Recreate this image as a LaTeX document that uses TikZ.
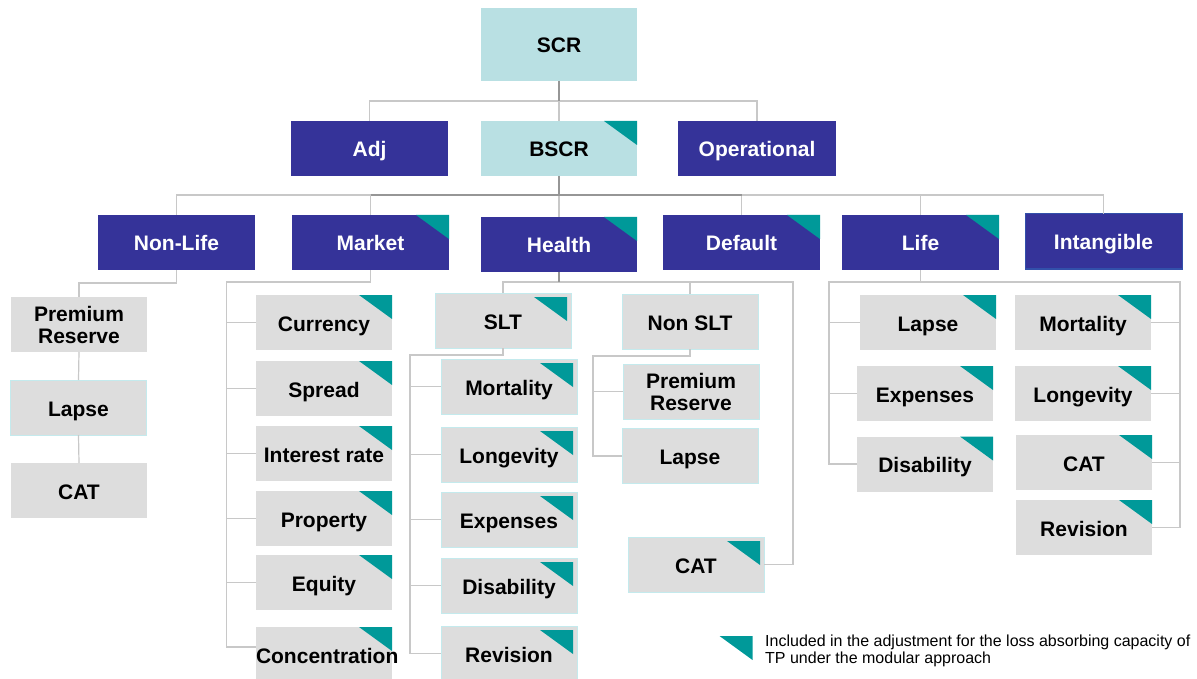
\documentclass[tikz,border=0pt]{standalone}
\usepackage{fontspec}
\setmainfont{Liberation Sans}
\usepackage{tikz}
\usetikzlibrary{arrows,shapes}
\definecolor{navy}{RGB}{53,51,153}
\definecolor{pale}{RGB}{185,224,227}
\definecolor{leafgrey}{RGB}{221,221,221}
\definecolor{rimcyan}{RGB}{196,234,237}
\definecolor{tpteal}{RGB}{0,153,153}
\definecolor{wire}{RGB}{200,200,200}
\definecolor{darkwire}{RGB}{150,150,150}
\definecolor{intblue}{RGB}{50,80,170}
\tikzstyle{frame}=[rectangle,inner sep=0pt,outer sep=0pt,minimum width=136pt,minimum height=55pt,align=center,font=\bfseries\fontsize{21}{22}\selectfont]
\tikzstyle{box}=[frame,text height=17pt,text depth=0pt]
\tikzstyle{module}=[box,fill=navy,text=white,minimum width=157pt]
\tikzstyle{total}=[box,fill=pale,minimum width=156pt]
\tikzstyle{sub}=[box,fill=leafgrey]
\tikzstyle{subrim}=[sub,draw=rimcyan,line width=1pt]
\tikzstyle{link}=[draw,wire,line width=1.2pt]
\tikzstyle{trunk}=[draw,darkwire,line width=1.2pt]
\newcommand{\tpmark}[1]{\fill[tpteal] (#1) -- ++(-33,0) -- ++(33,24) -- cycle;}

\begin{document}
\begin{tikzpicture}[x=1pt,y=-1pt]
      \useasboundingbox (0,0) rectangle (1197,679);

      \node[total,minimum height=73pt] (scr) at (559,44.5) {SCR};
      \node[module] (adj) at (369.5,148.5) {Adj};
      \node[total] (bscr) at (559,148.5) {BSCR};
      \node[module,minimum width=158pt] (op) at (757,148.5) {Operational};

      \node[module] (nonlife) at (176.5,242.5) {Non-Life};
      \node[module] (market) at (370.5,242.5) {Market};
      \node[module,minimum width=156pt] (health) at (559,244.5) {Health};
      \node[module] (default) at (741.5,242.5) {Default};
      \node[module] (life) at (920.5,242.5) {Life};
      \node[module,draw=intblue,line width=1pt] (intang) at (1103.5,241.5) {Intangible};

      \node[frame,fill=leafgrey] (nlprem) at (79,324.5) {Premium\\Reserve};
      \node[subrim] (nllapse) at (78.5,407.5) {Lapse};
      \node[sub] (nlcat) at (79,490.5) {CAT};

      \node[sub] (cur) at (324,322.5) {Currency};
      \node[sub] (spread) at (324,388.5) {Spread};
      \node[sub] (irate) at (324,453.5) {Interest rate};
      \node[sub] (prop) at (324,518.5) {Property};
      \node[sub] (equity) at (324,582.5) {Equity};
      \node[sub,text width=136pt] (conc) at (324,654.5) {Concentration};

      \node[subrim] (slt) at (503,320.5) {SLT};
      \node[subrim] (hmort) at (509,386.5) {Mortality};
      \node[subrim] (hlong) at (509,454.5) {Longevity};
      \node[subrim] (hexp) at (509,519.5) {Expenses};
      \node[subrim] (hdis) at (509,585.5) {Disability};
      \node[subrim] (hrev) at (509,653.5) {Revision};

      \node[subrim] (nonslt) at (690,321.5) {Non SLT};
      \node[frame,fill=leafgrey,draw=rimcyan,line width=1pt] (hprem) at (691,391.5) {Premium\\Reserve};
      \node[subrim] (hlapse) at (690,456) {Lapse};
      \node[subrim] (hcat) at (696,564.5) {CAT};

      \node[sub] (llapse) at (928,322.5) {Lapse};
      \node[sub] (lexp) at (925,393.5) {Expenses};
      \node[sub] (ldis) at (925,464) {Disability};
      \node[sub] (lmort) at (1083,322.5) {Mortality};
      \node[sub] (llong) at (1083,393.5) {Longevity};
      \node[sub] (lcat) at (1084,462.5) {CAT};
      \node[sub] (lrev) at (1084,527.5) {Revision};

      \coordinate (bus1) at (559,101);
      \coordinate (bus2) at (559,195);
      \coordinate (bus3) at (559,282);

      \path[link] (adj.north) -- (adj.north |- bus1) -- (op.north |- bus1) -- (op.north);
      \path[link] (bus1) -- (bscr.north);
      \path[trunk] (scr.south) -- (bus1);

      \path[link] (nonlife.north) -- (nonlife.north |- bus2) -- (intang.north |- bus2) -- (intang.north);
      \foreach \m in {market,health,default,life} \path[link] (\m.north |- bus2) -- (\m.north);
      \path[trunk] (bscr.south) -- (bus2);
      \path[trunk] (market.north |- bus2) -- (default.north |- bus2);

      \path[link] (nonlife.south) -- ++(0,13) -| (nlprem.north);
      \path[link] (nlprem.south) -- (nllapse.north);
      \path[link] (nllapse.south) -- (nlcat.north);

      \path[link] (market.south) -- ++(0,12) -| ([xshift=-29.5pt,yshift=7.5pt]conc.west) -- ([yshift=7.5pt]conc.west);
      \foreach \s in {cur,spread,irate,prop,equity} \path[link] (\s.west) -- ++(-29.5,0);

      \path[link] (slt.north) -- (slt.north |- bus3) -| ([xshift=29pt]hcat.east) -- (hcat.east);
      \path[link] (nonslt.north) -- (nonslt.north |- bus3);
      \path[trunk] (health.south) -- (health.south |- bus3);

      \path[link] (slt.south) -- ++(0,7) -| ([xshift=-31pt]hrev.west) -- (hrev.west);
      \foreach \s in {hmort,hlong,hexp,hdis} \path[link] (\s.west) -- ++(-31,0);

      \path[link] (nonslt.south) -- ++(0,7) -| ([xshift=-29pt]hlapse.west) -- (hlapse.west);
      \path[link] (hprem.west) -- ++(-30,0);

      \path[link] (life.south) -- (life.south |- bus3);
      \path[link] (ldis.west) -- ++(-28,0) |- (life.south |- bus3) -| ([xshift=28pt]lrev.east) -- (lrev.east);
      \path[link] (llapse.west) -- ++(-31,0);
      \path[link] (lexp.west) -- ++(-28,0);
      \foreach \s in {lmort,llong} \path[link] (\s.east) -- ++(29,0);
      \path[link] (lcat.east) -- ++(28,0);

      \foreach \n in {bscr,market,health,default,life,cur,spread,irate,prop,equity,conc,llapse,lexp,ldis,lmort,llong,lcat,lrev}
        \tpmark{\n.north east};
      \foreach \n in {slt,hmort,hlong,hexp,hdis,hrev,hcat}
        \tpmark{[xshift=-4pt,yshift=-4pt]\n.north east};

      \coordinate (key) at (752.5,636);
      \tpmark{key};
      \node[anchor=north west,inner sep=0pt,align=left,font=\fontsize{16}{17.7}\selectfont] (note) at (765,634.5) {Included in the adjustment for the loss absorbing capacity of\\TP under the modular approach};

    \end{tikzpicture}
\end{document}
